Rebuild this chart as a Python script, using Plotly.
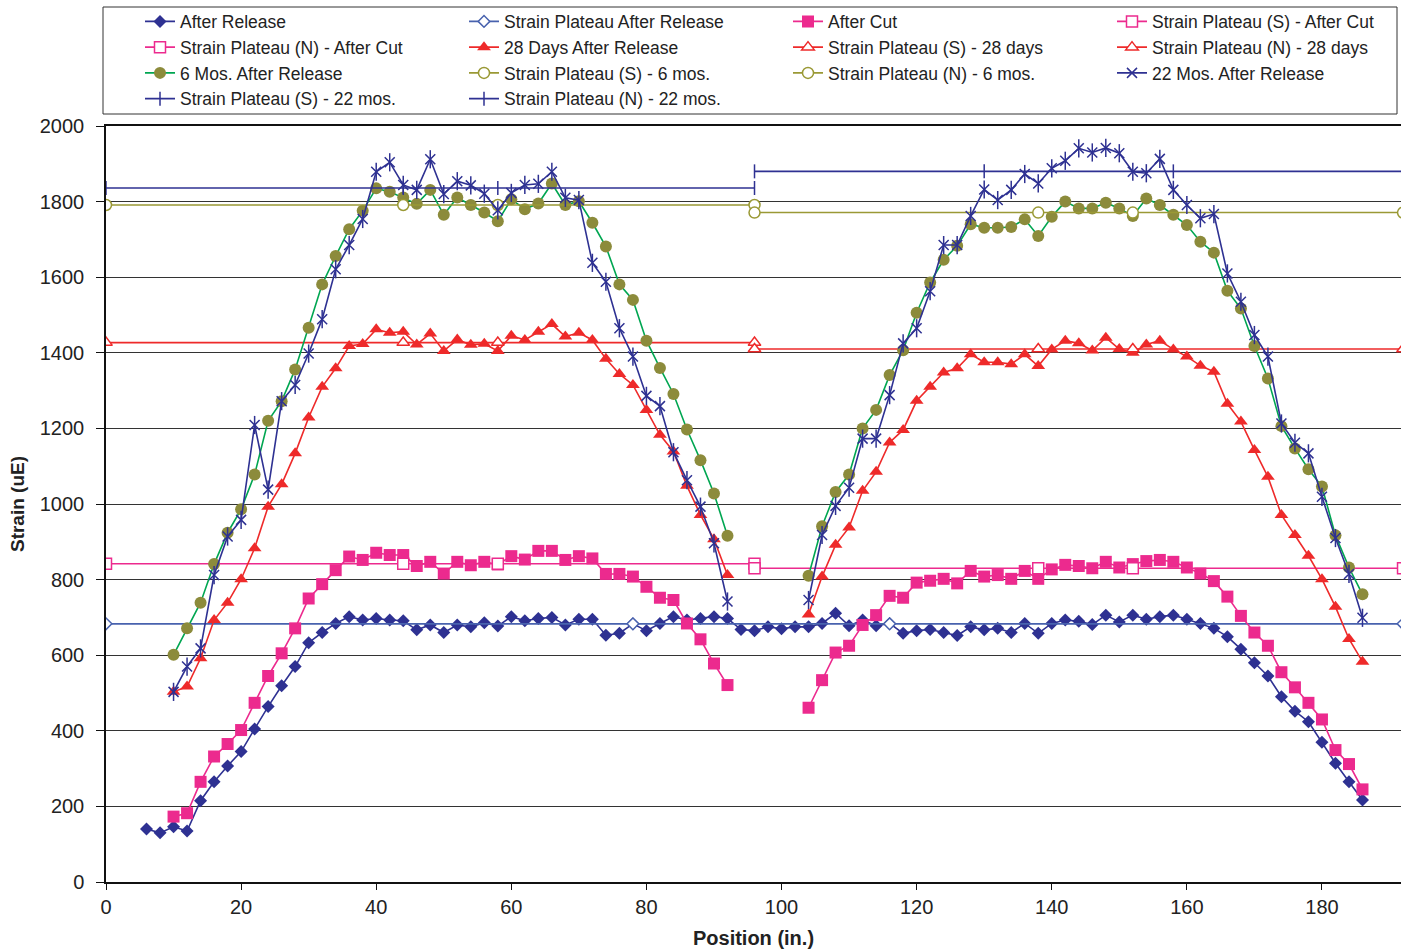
import plotly.graph_objects as go

# ---- positions (in.) ----
pos_release = list(range(6, 188, 2))
pos_left = list(range(10, 94, 2))
pos_right = list(range(104, 188, 2))

# ---- measured strain (uE) ----
after_release = [140, 130, 146, 135, 215, 265, 307, 345, 405, 464, 519, 570, 633, 660, 684, 702,
                 693, 697, 693, 691, 667, 680, 660, 680, 675, 686, 677, 702, 691, 697, 700, 680,
                 695, 695, 653, 658, 683, 665, 684, 702, 693, 697, 702, 697, 668, 665, 675, 670,
                 675, 675, 684, 711, 678, 693, 678, 684, 658, 665, 668, 660, 652, 675, 667, 671,
                 660, 684, 658, 684, 693, 690, 681, 706, 688, 706, 695, 702, 706, 695, 684, 671,
                 649, 616, 580, 545, 490, 452, 424, 370, 314, 265, 217]

after_cut_s = [173, 182, 265, 332, 365, 402, 474, 545, 605, 671, 750, 788, 825, 861, 852, 871,
               865, 865, 836, 847, 816, 847, 838, 847, 840, 862, 853, 876, 876, 852, 862, 856,
               815, 815, 808, 781, 752, 746, 684, 642, 578, 521]
after_cut_n = [461, 534, 607, 625, 680, 706, 757, 752, 792, 797, 802, 790, 823, 808, 812, 802,
               823, 802, 827, 839, 836, 830, 847, 832, 841, 849, 852, 847, 832, 816, 796, 755,
               704, 660, 625, 555, 515, 474, 430, 349, 312, 245]

days28_s = [503, 517, 592, 693, 739, 801, 883, 993, 1052, 1134, 1229, 1310, 1359, 1418, 1423, 1462,
            1453, 1456, 1422, 1451, 1405, 1435, 1421, 1424, 1405, 1445, 1434, 1456, 1476, 1443, 1453, 1434,
            1384, 1344, 1315, 1249, 1183, 1139, 1048, 971, 907, 812]
days28_n = [708, 808, 892, 938, 1035, 1085, 1163, 1196, 1273, 1310, 1348, 1359, 1396, 1375, 1375, 1370,
            1396, 1365, 1409, 1432, 1425, 1406, 1440, 1410, 1400, 1422, 1432, 1409, 1390, 1366, 1350, 1265,
            1218, 1143, 1072, 971, 918, 863, 801, 728, 643, 583]

mos6_s = [601, 671, 739, 841, 924, 986, 1078, 1220, 1272, 1356, 1466, 1581, 1656, 1727, 1776, 1835,
          1826, 1811, 1794, 1831, 1765, 1811, 1791, 1771, 1748, 1806, 1780, 1795, 1848, 1791, 1801, 1744,
          1681, 1581, 1540, 1432, 1360, 1291, 1197, 1116, 1028, 916]
mos6_n = [810, 941, 1032, 1078, 1200, 1249, 1341, 1407, 1506, 1586, 1646, 1683, 1740, 1731, 1731, 1733,
          1753, 1709, 1760, 1800, 1782, 1782, 1797, 1782, 1762, 1808, 1791, 1765, 1738, 1694, 1665, 1564,
          1517, 1418, 1332, 1206, 1147, 1092, 1046, 917, 832, 761]

mos22_s = [503, 570, 618, 812, 914, 958, 1209, 1038, 1272, 1315, 1398, 1489, 1621, 1685, 1754, 1879,
           1904, 1844, 1831, 1912, 1820, 1854, 1843, 1821, 1777, 1823, 1844, 1847, 1879, 1810, 1804, 1638,
           1588, 1465, 1390, 1286, 1259, 1137, 1063, 993, 896, 742]
mos22_n = [746, 918, 995, 1043, 1173, 1173, 1288, 1425, 1465, 1563, 1685, 1685, 1762, 1832, 1804, 1831,
           1873, 1848, 1888, 1908, 1941, 1930, 1942, 1928, 1879, 1875, 1913, 1831, 1791, 1756, 1767, 1610,
           1535, 1447, 1390, 1213, 1162, 1134, 1019, 910, 815, 699]

# ---- strain plateau levels (uE) and marker positions (in.) ----
plateau_release = 683
plateau_cut_s, plateau_cut_n = 842, 830
plateau_28_s, plateau_28_n = 1427, 1410
plateau_6_s, plateau_6_n = 1791, 1771
plateau_22_s, plateau_22_n = 1836, 1880

plat_x_release = [0, 78, 116, 192]
plat_x_s = [0, 44, 58, 96]
plat_x_n = [96, 138, 152, 192]
plat_x_n22 = [96, 130, 158, 192]

# ---- colours ----
NAVY = "#2E3192"
PLATEAU_BLUE = "#4862AE"
PINK = "#EC2A8E"
RED = "#EE2A2A"
OLIVE = "#8C8B3B"
GREEN = "#00A651"
OLIVE_LINE = "#9A9935"

FONT = "Liberation Sans, Arial, Helvetica, sans-serif"
ENTRY_W = 279        # legend column pitch = ENTRY_W + 45 px
LAST_COL_W = 230     # narrower last column keeps the legend inside the page

x_split = pos_left + [None] + pos_right


def split(left, right):
    return left + [None] + right


fig = go.Figure()


def data_trace(name, x, y, color, symbol, size, line_color=None, lw=None, open_marker=False):
    fig.add_trace(go.Scatter(
        x=x, y=y, name=name, mode="lines+markers", legendwidth=lw,
        line=dict(color=line_color or color, width=1.6),
        marker=dict(symbol=symbol, size=size, color=color,
                    line=dict(color=color, width=1.5 if open_marker else 0)),
        connectgaps=False,
    ))


def plateau_trace(name, xs, level, color, symbol, size, lw=None, filled=False):
    fig.add_trace(go.Scatter(
        x=xs, y=[level] * len(xs), name=name, mode="lines+markers", legendwidth=lw,
        line=dict(color=color, width=1.6),
        marker=dict(symbol=symbol, size=size, color=color if filled else "white",
                    line=dict(color=color, width=1.5)),
    ))


data_trace("After Release", pos_release, after_release, NAVY, "diamond", 10)
plateau_trace("Strain Plateau After Release", plat_x_release, plateau_release, PLATEAU_BLUE, "diamond", 9)
data_trace("After Cut", x_split, split(after_cut_s, after_cut_n), PINK, "square", 12)
plateau_trace("Strain Plateau (S) - After Cut", plat_x_s, plateau_cut_s, PINK, "square", 11, lw=LAST_COL_W)
plateau_trace("Strain Plateau (N) - After Cut", plat_x_n, plateau_cut_n, PINK, "square", 11)
data_trace("28 Days After Release", x_split, split(days28_s, days28_n), RED, "triangle-up", 12)
plateau_trace("Strain Plateau (S) - 28 days", plat_x_s, plateau_28_s, RED, "triangle-up", 11)
plateau_trace("Strain Plateau (N) - 28 days", plat_x_n, plateau_28_n, RED, "triangle-up", 11, lw=LAST_COL_W)
data_trace("6 Mos. After Release", x_split, split(mos6_s, mos6_n), OLIVE, "circle", 12, line_color=GREEN)
plateau_trace("Strain Plateau (S) - 6 mos.", plat_x_s, plateau_6_s, OLIVE_LINE, "circle", 11)
plateau_trace("Strain Plateau (N) - 6 mos.", plat_x_n, plateau_6_n, OLIVE_LINE, "circle", 11)

# 22-month readings: six-armed star = diagonal cross + vertical bar
mos22_x = x_split
mos22_y = split(mos22_s, mos22_n)
data_trace("22 Mos. After Release", mos22_x, mos22_y, NAVY, "x-thin-open", 10,
           lw=LAST_COL_W, open_marker=True)
fig.add_trace(go.Scatter(
    x=mos22_x, y=mos22_y, mode="markers", showlegend=False, hoverinfo="skip",
    marker=dict(symbol="line-ns-open", size=13, color=NAVY, line=dict(color=NAVY, width=1.5)),
))

plateau_trace("Strain Plateau (S) - 22 mos.", plat_x_s, plateau_22_s, NAVY, "line-ns-open", 10, filled=True)
plateau_trace("Strain Plateau (N) - 22 mos.", plat_x_n22, plateau_22_n, NAVY, "line-ns-open", 10, filled=True)

# frame around the legend (plot area spans 106..1401 px wide, 126..882 px tall)
PLOT_L, PLOT_R, PLOT_T, PLOT_B = 106, 1401, 126, 882
pw, ph = PLOT_R - PLOT_L, PLOT_B - PLOT_T
fig.add_shape(type="rect", xref="paper", yref="paper",
              x0=(103 - PLOT_L) / pw, x1=(1397 - PLOT_L) / pw,
              y0=(PLOT_B - 114) / ph, y1=(PLOT_B - 7) / ph,
              line=dict(color="#333333", width=1), fillcolor="rgba(0,0,0,0)", layer="above")

fig.update_layout(
    width=1401, height=949,
    margin=dict(l=PLOT_L, r=1401 - PLOT_R, t=PLOT_T, b=949 - PLOT_B, autoexpand=False),
    paper_bgcolor="white", plot_bgcolor="white",
    font=dict(family=FONT, color="#222222"),
    legend=dict(
        orientation="h",
        xref="container", yref="container",
        x=140 / 1401, y=1 - 3.5 / 949, xanchor="left", yanchor="top",
        bgcolor="rgba(0,0,0,0)", borderwidth=0,
        font=dict(family=FONT, size=17.5, color="#222222"),
        entrywidth=ENTRY_W, entrywidthmode="pixels",
        tracegroupgap=0,
    ),
    xaxis=dict(
        range=[0, 191.7], tickmode="linear", tick0=0, dtick=20,
        showgrid=False, zeroline=False,
        showline=True, linecolor="#111111", linewidth=2, mirror=True,
        ticks="outside", ticklen=6, tickcolor="#111111", tickwidth=1,
        tickfont=dict(size=20, family=FONT, color="#222222"),
        title=dict(text="<b>Position (in.)</b>", font=dict(size=20, family=FONT, color="#222222"),
                   standoff=14),
    ),
    yaxis=dict(
        range=[0, 2000], tickmode="linear", tick0=0, dtick=200,
        showgrid=True, gridcolor="#333333", gridwidth=1.2,
        zeroline=False,
        showline=True, linecolor="#111111", linewidth=1.5,
        ticks="outside", ticklen=8, tickcolor="#111111", tickwidth=1,
        ticklabelstandoff=8,
        tickfont=dict(size=20, family=FONT, color="#222222"),
        title=dict(text="<b>Strain (uE)</b>", font=dict(size=19, family=FONT, color="#222222"),
                   standoff=10),
    ),
)

fig.write_html("out.html")
